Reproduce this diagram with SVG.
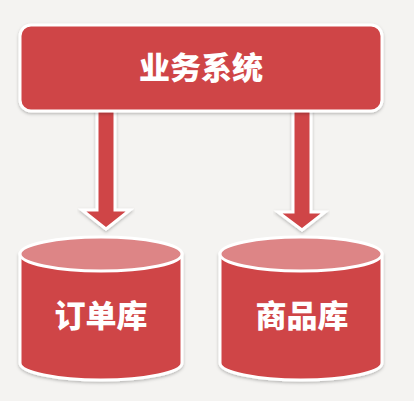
<svg xmlns="http://www.w3.org/2000/svg" width="414" height="401" viewBox="0 0 414 401">
<defs>
<filter id="sh" x="-10%" y="-10%" width="120%" height="130%">
<feDropShadow dx="0" dy="1.5" stdDeviation="1.5" flood-color="#000" flood-opacity="0.25"/>
</filter>
<style>
.red{fill:#cf4446;stroke:#ffffff;stroke-width:3;filter:url(#sh)}
.top{fill:#dd8586;stroke:#ffffff;stroke-width:3}
.lbl{font-family:"Noto Sans CJK SC","Noto Sans CJK JP",sans-serif;font-weight:900;fill:#ffffff;text-anchor:middle}
</style>
</defs>
<rect width="414" height="401" fill="#f4f3f1"/>
<g id="connectors">
<polygon class="red" points="97,108 115,108 115,210 130,210 106,229 82,210 97,210"/>
<polygon class="red" points="293,108 311,108 311,212 325,212 302,230 278,212 293,212"/>
</g>
<g id="business">
<rect class="red" x="20" y="25" width="362" height="86" rx="11"/>
<text class="lbl" x="201" y="79" font-size="31">业务系统</text>
</g>
<g id="orderdb">
<path class="red" d="M20,254 L20,363 A81,17 0 0 0 182,363 L182,254 Z"/>
<ellipse class="top" cx="101" cy="254" rx="81" ry="17"/>
<text class="lbl" x="101" y="327" font-size="31">订单库</text>
</g>
<g id="productdb">
<path class="red" d="M220,254 L220,363 A81,17 0 0 0 382,363 L382,254 Z"/>
<ellipse class="top" cx="301" cy="254" rx="81" ry="17"/>
<text class="lbl" x="302" y="327" font-size="31">商品库</text>
</g>
</svg>
